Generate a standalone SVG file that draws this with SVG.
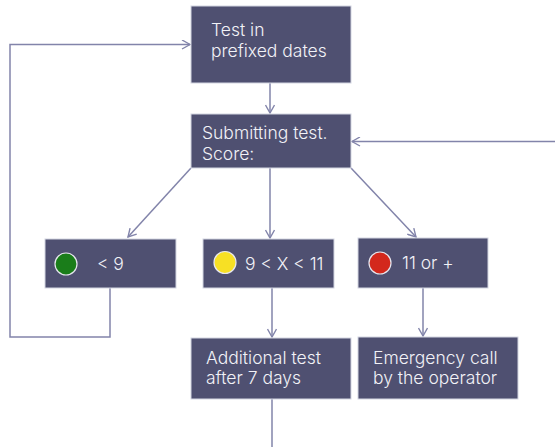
<svg xmlns="http://www.w3.org/2000/svg" width="555" height="447" viewBox="0 0 555 447">
<style>
.box{fill:#4f5071;stroke:#d4d6e2;stroke-width:1}
.t{font-family:Inter,"Liberation Sans",sans-serif;font-size:17.5px;font-weight:300;fill:#f2f2f7}
.c{fill:none;stroke:#8284aa;stroke-width:1.5}
.dot{stroke:#e6e6ee;stroke-width:1.2}
</style>
<defs>
<marker id="a" viewBox="0 0 10 10" refX="9" refY="5" markerWidth="10" markerHeight="10" markerUnits="userSpaceOnUse" orient="auto">
<path d="M1,0.5 L9,5 L1,9.5" fill="none" stroke="#8284aa" stroke-width="1.4"/>
</marker>
</defs>
<rect width="555" height="447" fill="#ffffff"/>
<g id="connectors">
<line class="c" x1="270" y1="83" x2="270" y2="113" marker-end="url(#a)"/>
<line class="c" x1="555" y1="141.5" x2="352" y2="141.5" marker-end="url(#a)"/>
<line class="c" x1="191" y1="168" x2="128" y2="237" marker-end="url(#a)"/>
<line class="c" x1="270" y1="168" x2="270" y2="238" marker-end="url(#a)"/>
<line class="c" x1="351" y1="168" x2="416" y2="237" marker-end="url(#a)"/>
<line class="c" x1="272" y1="288" x2="272" y2="337" marker-end="url(#a)"/>
<line class="c" x1="423" y1="288" x2="423" y2="336" marker-end="url(#a)"/>
<polyline class="c" points="110,288 110,337 10,337 10,44.5 190,44.5" marker-end="url(#a)"/>
<line class="c" x1="272" y1="399" x2="272" y2="447"/>
</g>
<g id="n1">
<rect class="box" x="191" y="6" width="160" height="77"/>
<text class="t" x="211" y="36">Test in</text>
<text class="t" x="211" y="57">prefixed dates</text>
</g>
<g id="n2">
<rect class="box" x="191" y="114" width="160" height="54"/>
<text class="t" x="202" y="139">Submitting test.</text>
<text class="t" x="202" y="160">Score:</text>
</g>
<g id="n3">
<rect class="box" x="45" y="239" width="131" height="49"/>
<circle class="dot" cx="66" cy="264" r="11" fill="#1a7d1a"/>
<text class="t" x="97" y="270">&lt; 9</text>
</g>
<g id="n4">
<rect class="box" x="203" y="239" width="131" height="49"/>
<circle class="dot" cx="225" cy="262.5" r="11" fill="#f7e024"/>
<text class="t" x="245" y="270">9 &lt; X &lt; 11</text>
</g>
<g id="n5">
<rect class="box" x="358" y="238" width="130" height="50"/>
<circle class="dot" cx="380" cy="263" r="11" fill="#d3281c"/>
<text class="t" x="402" y="269">11 or +</text>
</g>
<g id="n6">
<rect class="box" x="191" y="338" width="160" height="61"/>
<text class="t" x="206" y="364">Additional test</text>
<text class="t" x="206" y="384">after 7 days</text>
</g>
<g id="n7">
<rect class="box" x="358" y="337" width="160" height="62"/>
<text class="t" x="373" y="364">Emergency call</text>
<text class="t" x="373" y="384">by the operator</text>
</g>
</svg>
